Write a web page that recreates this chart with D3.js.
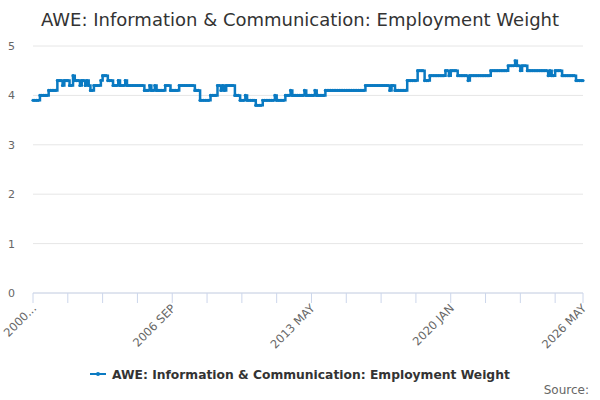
<!DOCTYPE html>
<html><head><meta charset="utf-8">
<script src="https://cdn.jsdelivr.net/npm/d3@7"></script>
<style>body{margin:0;background:#fff;font-family:"DejaVu Sans",sans-serif}</style>
</head><body><div id="chart"></div>
<script>
// monthly values, as [value, number of months] runs from 2000 JAN
const runs = [
  [3.9,4],[4.0,5],[4.1,5],[4.3,3],[4.2,1],[4.3,3],[4.2,2],[4.4,1],
  [4.3,3],[4.2,1],[4.3,2],[4.2,1],[4.3,1],[4.2,1],[4.1,2],[4.2,4],
  [4.3,1],[4.4,3],[4.3,3],[4.2,3],[4.3,1],[4.2,3],[4.3,1],[4.2,10],
  [4.1,3],[4.2,1],[4.1,2],[4.2,1],[4.1,5],[4.2,3],[4.1,5],[4.2,9],
  [4.1,3],[3.9,6],[4.0,4],[4.2,2],[4.1,1],[4.2,1],[4.1,1],[4.2,5],
  [4.0,3],[3.9,3],[4.0,1],[3.9,5],[3.8,4],[3.9,7],[4.0,1],[3.9,5],
  [4.0,3],[4.1,1],[4.0,7],[4.1,1],[4.0,5],[4.1,1],[4.0,5],[4.1,23],
  [4.2,14],[4.1,1],[4.2,2],[4.1,7],[4.3,6],[4.5,4],[4.3,3],[4.4,9],
  [4.5,2],[4.4,1],[4.5,4],[4.4,6],[4.3,1],[4.4,12],[4.5,10],[4.6,4],
  [4.7,1],[4.6,2],[4.5,1],[4.6,3],[4.5,12],[4.4,1],[4.5,1],[4.4,2],
  [4.5,4],[4.4,8],[4.3,5]
];
const monthNames = ["JAN","FEB","MAR","APR","MAY","JUN","JUL","AUG","SEP","OCT","NOV","DEC"];
const yTicks = [0,1,2,3,4,5];
const values = runs.flatMap(([v, n]) => Array(n).fill(v));
const categories = values.map((v, i) => `${2000 + Math.floor(i / 12)} ${monthNames[i % 12]}`);
const labelIdx = [0, 80, 160, 240, categories.length - 1];

const W = 600, H = 400;
const m = { top: 46, right: 17, bottom: 107, left: 33 };
const svg = d3.select("#chart").append("svg").attr("width", W).attr("height", H);

svg.append("text").attr("x", W / 2).attr("y", 26).attr("text-anchor", "middle")
  .attr("font-size", 18).attr("fill", "#333")
  .text("AWE: Information & Communication: Employment Weight");

const x = d3.scaleLinear().domain([0, categories.length - 1]).range([m.left, W - m.right]);
const y = d3.scaleLinear().domain([0, 5]).range([H - m.bottom, m.top]);

// grid
svg.append("g").selectAll("line").data(yTicks).enter().append("line")
  .attr("x1", m.left).attr("x2", W - m.right)
  .attr("y1", d => y(d)).attr("y2", d => y(d))
  .attr("stroke", "#e6e6e6");
svg.append("g").selectAll("text").data(yTicks).enter().append("text")
  .attr("x", 15).attr("y", d => y(d) + 4).attr("text-anchor", "end")
  .attr("font-size", 11).attr("fill", "#666").text(d => d);

// x axis
const tickIdx = d3.range(0, categories.length, 20).concat([categories.length - 1]);
const ax = svg.append("g");
ax.append("line").attr("x1", m.left).attr("x2", W - m.right)
  .attr("y1", y(0)).attr("y2", y(0)).attr("stroke", "#ccd6eb");
ax.selectAll(".tk").data(tickIdx).enter().append("line")
  .attr("x1", d => x(d)).attr("x2", d => x(d))
  .attr("y1", y(0)).attr("y2", y(0) + 10).attr("stroke", "#ccd6eb");
ax.selectAll(".lb").data(labelIdx).enter().append("text")
  .attr("transform", d => `translate(${x(d) + 4},${y(0) + 16}) rotate(-45)`)
  .attr("text-anchor", "end").attr("font-size", 11.5).attr("fill", "#666")
  .text(d => d === 0 ? "2000..." : categories[d]);

// line
svg.append("path").datum(values)
  .attr("fill", "none").attr("stroke", "#0a7ac2").attr("stroke-width", 2.5)
  .attr("d", d3.line().x((d, i) => x(i)).y(d => y(d)).curve(d3.curveStepAfter));
svg.append("g").selectAll("circle").data(values).enter().append("circle")
  .attr("cx", (d, i) => x(i)).attr("cy", d => y(d)).attr("r", 1.6).attr("fill", "#0a7ac2");

// legend
const lg = svg.append("g").attr("transform", "translate(90,374)");
lg.append("line").attr("x1", 0).attr("x2", 16).attr("y1", 0).attr("y2", 0)
  .attr("stroke", "#0a7ac2").attr("stroke-width", 2);
lg.append("circle").attr("cx", 8).attr("cy", 0).attr("r", 2).attr("fill", "#0a7ac2");
lg.append("text").attr("x", 22).attr("y", 5).attr("font-size", 12.3).attr("font-weight", "bold")
  .attr("fill", "#333").text("AWE: Information & Communication: Employment Weight");

svg.append("text").attr("x", 589).attr("y", 394).attr("text-anchor", "end")
  .attr("font-size", 12).attr("fill", "#666").text("Source:");
</script></body></html>
